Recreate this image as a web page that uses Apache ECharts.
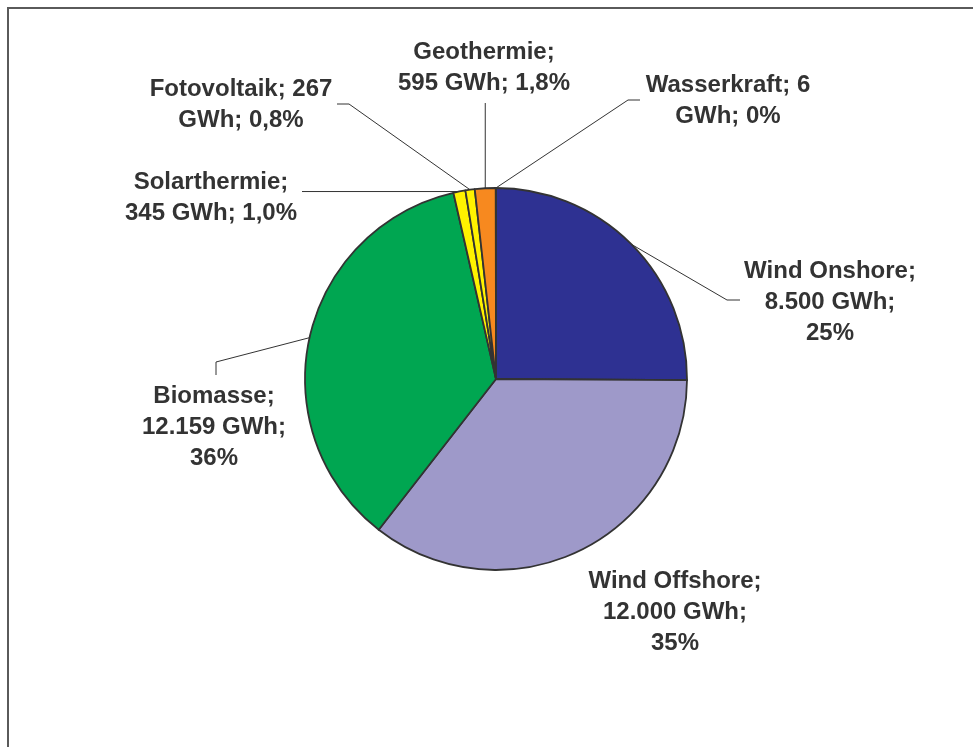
<!DOCTYPE html>
<html>
<head>
<meta charset="utf-8">
<style>
  html, body { margin: 0; padding: 0; background: #fff; }
  #chart { width: 973px; height: 747px; }
</style>
<script src="https://cdn.jsdelivr.net/npm/echarts@6/dist/echarts.min.js"></script>
</head>
<body>
<div id="chart"></div>
<script>
// Erzeugung erneuerbarer Energien nach Quelle (GWh)
const categories = ['Wind Onshore', 'Wind Offshore', 'Biomasse', 'Solarthermie', 'Fotovoltaik', 'Geothermie', 'Wasserkraft'];
const valuesGWh  = [8500, 12000, 12159, 345, 267, 595, 6];
const sliceColors = ['#2E3192', '#9E99C9', '#00A651', '#FFF200', '#FFF200', '#F7891F', '#3B5BDB'];
// how each label text is broken into lines
const wrapStyles = ['stacked', 'stacked', 'stacked', 'nameLine', 'splitValue', 'nameLine', 'splitValue'];

const total = valuesGWh.reduce((a, b) => a + b, 0);

function fmtGWh(v) {
  return String(v).replace(/\B(?=(\d{3})+(?!\d))/g, '.');
}
function fmtShare(v) {
  const p = v / total * 100;
  if (p < 0.1) return '0%';
  if (p < 10) return p.toFixed(1).replace('.', ',') + '%';
  return Math.round(p) + '%';
}
function labelText(i) {
  const n = categories[i], v = fmtGWh(valuesGWh[i]), s = fmtShare(valuesGWh[i]);
  switch (wrapStyles[i]) {
    case 'stacked':    return n + ';\n' + v + ' GWh;\n' + s;
    case 'nameLine':   return n + ';\n' + v + ' GWh; ' + s;
    case 'splitValue': return n + '; ' + v + '\nGWh; ' + s;
  }
}

// label placement (centre of text block) and leader-line bend points
const labelSpots = [
  { x: 830, y: 302, line: [[727, 300], [740, 300]] },
  { x: 675, y: 612, line: null },
  { x: 214, y: 427, line: [[216, 362], [216, 375]] },
  { x: 211, y: 198, line: [[302, 193]], horiz: true },
  { x: 241, y: 105, line: [[349, 104], [337, 104]] },
  { x: 484, y: 68,  line: [[null, 103]], vert: true },
  { x: 728, y: 101, line: [[628, 100], [640, 100]] }
];

const chart = echarts.init(document.getElementById('chart'), null, { renderer: 'canvas' });

chart.setOption({
  backgroundColor: '#ffffff',
  animation: false,
  graphic: [
    { type: 'line', shape: { x1: 8, y1: 8, x2: 973, y2: 8 }, style: { stroke: '#5a5a5a', lineWidth: 2 } },
    { type: 'line', shape: { x1: 8, y1: 7, x2: 8, y2: 747 }, style: { stroke: '#5a5a5a', lineWidth: 2 } }
  ],
  series: [{
    type: 'pie',
    center: [496, 379],
    radius: 191,
    startAngle: 90,
    clockwise: true,
    avoidLabelOverlap: false,
    itemStyle: { borderColor: '#333333', borderWidth: 1.8 },
    label: {
      show: true,
      position: 'outside',
      color: '#333333',
      fontFamily: 'Liberation Sans, Arial, sans-serif',
      fontWeight: 'bold',
      fontSize: 24,
      lineHeight: 31,
      align: 'center',
      formatter: p => labelText(p.dataIndex)
    },
    labelLine: { show: true, lineStyle: { color: '#333333', width: 1 } },
    emphasis: { disabled: true },
    labelLayout: function (params) {
      const spot = labelSpots[params.dataIndex];
      const out = { x: spot.x, y: spot.y, align: 'center', verticalAlign: 'middle' };
      const pts = params.labelLinePoints;
      if (spot.line && pts && pts.length) {
        const start = pts[0];
        let rest;
        if (spot.vert) rest = [[start[0], spot.line[0][1]], [start[0], spot.line[0][1]]];
        else if (spot.horiz) rest = [[spot.line[0][0], start[1]], [spot.line[0][0], start[1]]];
        else rest = spot.line;
        out.labelLinePoints = [start].concat(rest);
      }
      return out;
    },
    data: categories.map((name, i) => ({
      name: name,
      value: valuesGWh[i],
      itemStyle: { color: sliceColors[i] },
      labelLine: { show: !!labelSpots[i].line }
    }))
  }]
});
</script>
</body>
</html>
